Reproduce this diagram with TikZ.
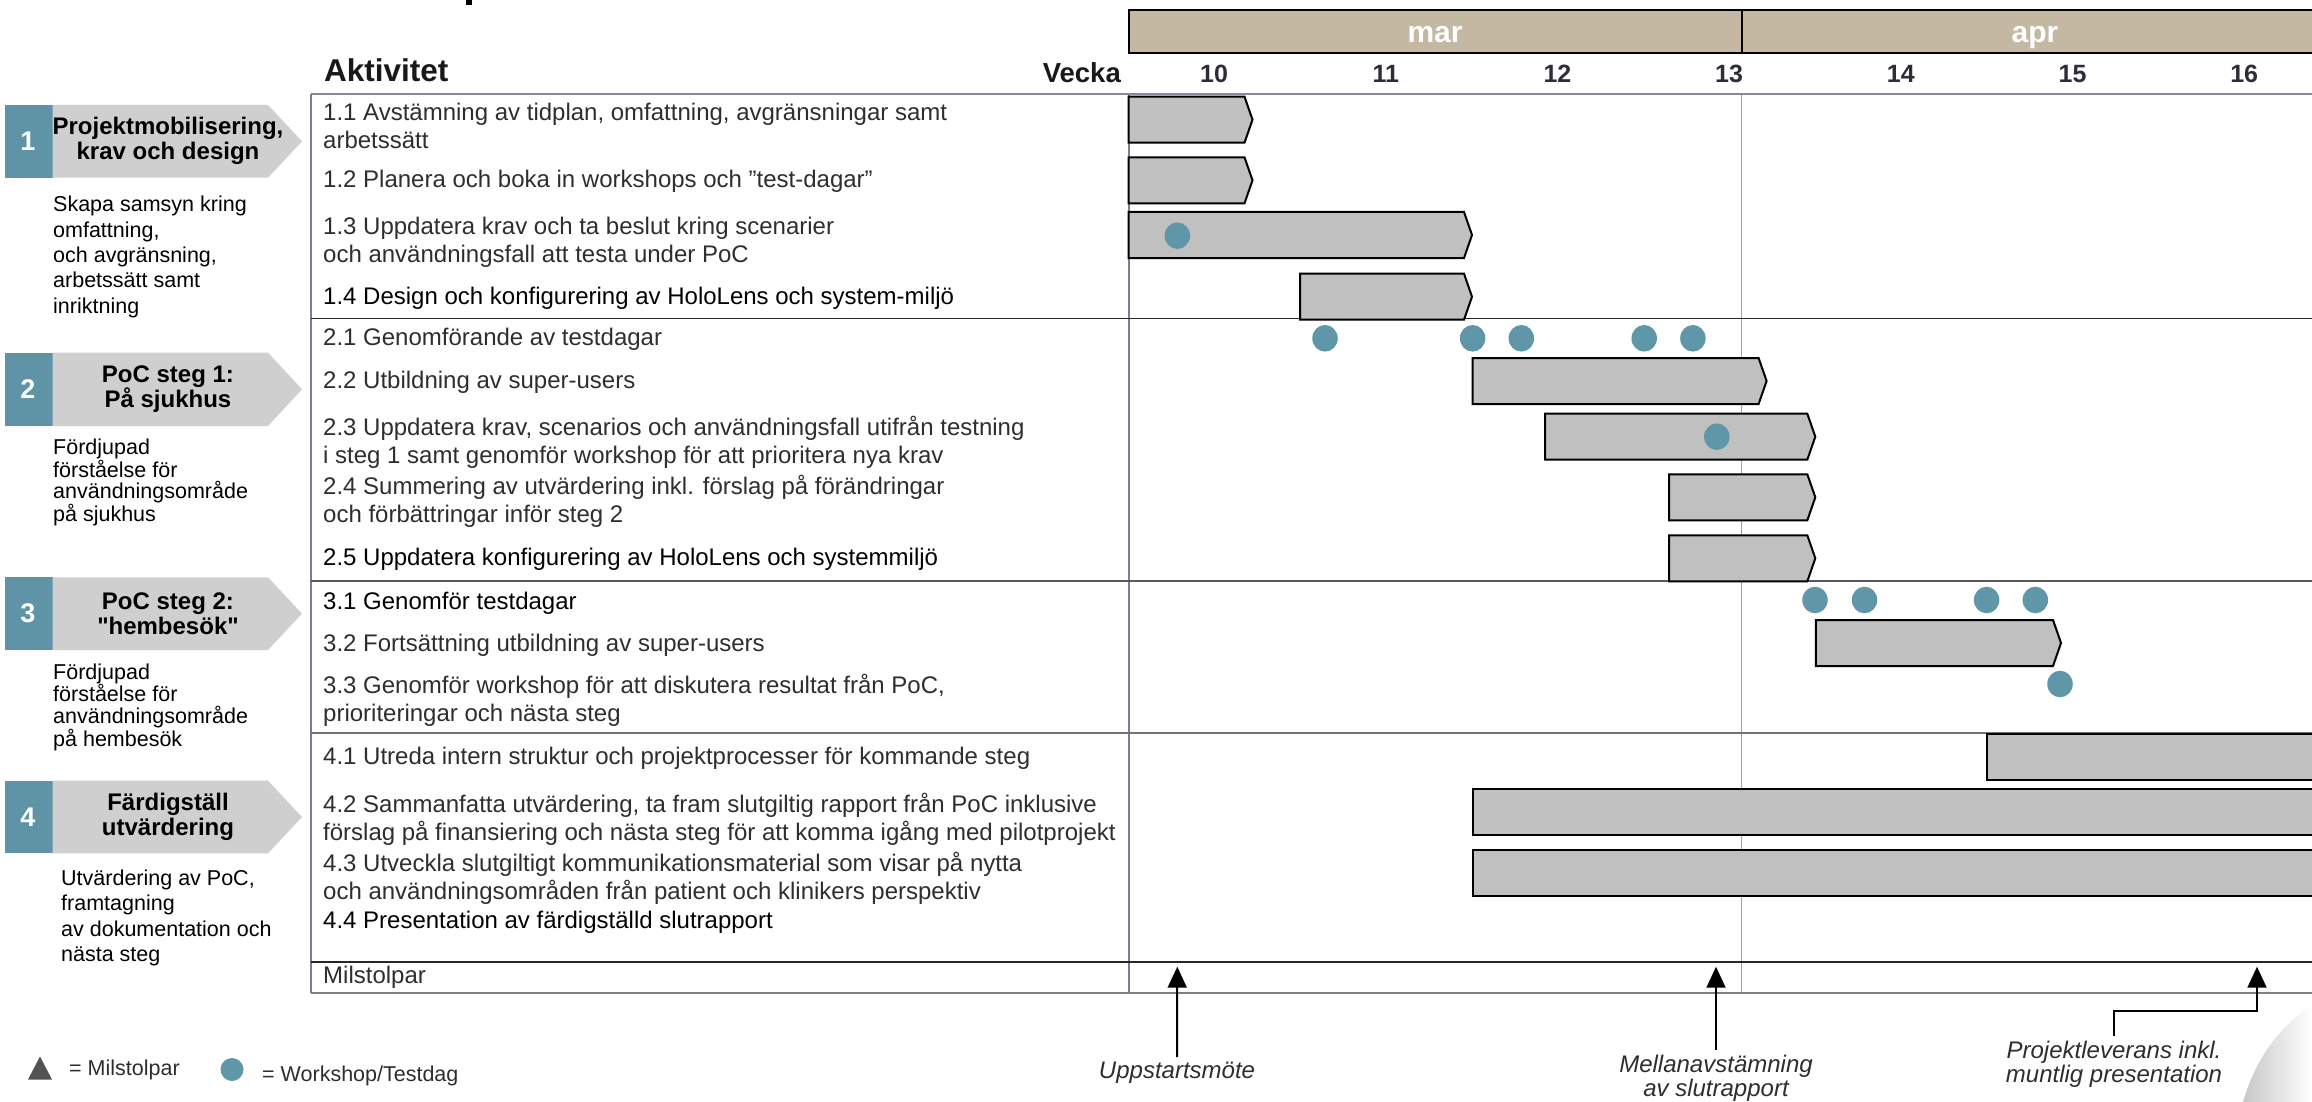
\documentclass[tikz,border=0pt]{standalone}
\usepackage{fontspec}
\setmainfont{Liberation Sans}
\usetikzlibrary{arrows.meta}
\definecolor{tealA}{HTML}{6097A8}
\definecolor{tealB}{HTML}{5E94A6}
\definecolor{tanA}{HTML}{C4B8A2}
\definecolor{barA}{HTML}{C0C0C0}
\definecolor{chevA}{HTML}{CFCFCF}
\definecolor{txtA}{HTML}{2E2E2E}
\definecolor{wkA}{HTML}{2D2D3A}
\definecolor{gridA}{HTML}{7C7C8C}
\definecolor{gridB}{HTML}{A0A0A0}
\newcommand{\ganttbar}[3]{\draw[barst] (#1,#3-23) -- (#2,#3-23) -- (#2+8,#3) -- (#2,#3+23) -- (#1,#3+23) -- cycle;}
\newcommand{\openbar}[2]{\draw[barst] (#1,#2-23) rectangle (2340,#2+23);}
\newcommand{\wsdot}[2]{\fill[tealA] (#1,#2) ellipse [x radius=12.75pt, y radius=13.3pt];}
\begin{document}
\begin{tikzpicture}[x=1pt,y=-1pt,
  act/.style={anchor=west, inner sep=0pt, align=left, font=\fontsize{24}{28}\selectfont, text=txtA},
  actb/.style={act, text=black},
  hdr/.style={inner sep=0pt, font=\bfseries\fontsize{31.5}{34}\selectfont, text=black!90},
  wkst/.style={anchor=base, inner sep=0pt, font=\bfseries\fontsize{25}{28}\selectfont, text=wkA},
  monst/.style={anchor=base, inner sep=0pt, font=\bfseries\fontsize{30}{32}\selectfont, text=white},
  chevtxt/.style={inner sep=0pt, align=center, font=\bfseries\fontsize{24}{25}\selectfont, text=black},
  numst/.style={inner sep=0pt, font=\bfseries\fontsize{27}{30}\selectfont, text=white},
  desc/.style={anchor=west, inner sep=0pt, align=left, text=black},
  barst/.style={fill=barA, draw=black, line width=2pt, line join=miter},
  mlab/.style={inner sep=5pt, align=center, font=\itshape\fontsize{24}{24}\selectfont, text=txtA},
  mline/.style={draw=black, line width=2pt, -{Triangle[width=19pt,length=21pt]}},
  leg/.style={anchor=west, inner sep=0pt, font=\fontsize{21.5}{24}\selectfont, text=txtA}
]
\useasboundingbox (0,0) rectangle (2312,1102);
\clip (0,0) rectangle (2312,1102);
\fill[white] (0,0) rectangle (2312,1102);

% title remnant
\fill[black] (466,0) rectangle (471.5,5.5);

% bottom right arc
\shade[left color=black!22, right color=white] (2243,1102) .. controls (2255,1060) and (2278,1028) .. (2312,1005) -- (2312,1102) -- cycle;

% month bar
\draw[fill=tanA, line width=2pt] (1128.6,10) rectangle (1741.6,53);
\draw[fill=tanA, line width=2pt] (1741.6,10) rectangle (2340,53);
\node[monst] (mar) at (1435,43) {mar};
\node[monst] (apr) at (2035,43) {apr};

% headers
\node[hdr, anchor=base west] (akt) at (324,82) {Aktivitet};
\node[hdr, anchor=base east, font=\bfseries\fontsize{27.5}{30}\selectfont] (vecka) at (1121,83) {Vecka};
\foreach \w [count=\i from 0] in {10,...,16}
  \node[wkst] (w\w) at (1214+171.7*\i,83) {\w};

% grid
\draw[gridA, line width=1.5pt] (311,94) -- (311,993);
\draw[gridA, line width=2pt] (1128.6,94) -- (1128.6,993);
\draw[gridB, line width=1.5pt] (1741.6,94) -- (1741.6,993);
\draw[gridA!90, line width=2.5pt] (311,94) -- (2312,94);
\draw[black!85, line width=1.5pt] (311,318.5) -- (2312,318.5);
\draw[black!65, line width=2.5pt] (311,581) -- (2312,581);
\draw[black!55, line width=2.5pt] (311,733) -- (2312,733);
\draw[black!85, line width=1.5pt] (311,962) -- (2312,962);
\draw[black!50, line width=2.5pt] (311,993) -- (2312,993);

% activity texts
\node[act] (a11) at (323,126) {1.1 Avstämning av tidplan, omfattning, avgränsningar samt\\arbetssätt};
\node[act] (a12) at (323,181) {1.2 Planera och boka in workshops och ”test-dagar”};
\node[act] (a13) at (323,242) {1.3 Uppdatera krav och ta beslut kring scenarier\\och användningsfall att testa under PoC};
\node[actb] (a14) at (323,298) {1.4 Design och konfigurering av HoloLens och system-miljö};
\node[act] (a21) at (323,339) {2.1 Genomförande av testdagar};
\node[act] (a22) at (323,382) {2.2 Utbildning av super-users};
\node[act] (a23) at (323,442) {2.3 Uppdatera krav, scenarios och användningsfall utifrån testning\\i steg 1 samt genomför workshop för att prioritera nya krav};
\node[act] (a24) at (323,501) {2.4 Summering av utvärdering inkl. förslag på förändringar\\och förbättringar inför steg 2};
\node[actb] (a25) at (323,559) {2.5 Uppdatera konfigurering av HoloLens och systemmiljö};
\node[actb] (a31) at (323,603) {3.1 Genomför testdagar};
\node[act] (a32) at (323,645) {3.2 Fortsättning utbildning av super-users};
\node[act] (a33) at (323,700) {3.3 Genomför workshop för att diskutera resultat från PoC,\\prioriteringar och nästa steg};
\node[act] (a41) at (323,758) {4.1 Utreda intern struktur och projektprocesser för kommande steg};
\node[act] (a42) at (323,819) {4.2 Sammanfatta utvärdering, ta fram slutgiltig rapport från PoC inklusive\\förslag på finansiering och nästa steg för att komma igång med pilotprojekt};
\node[act] (a43) at (323,878) {4.3 Utveckla slutgiltigt kommunikationsmaterial som visar på nytta\\och användningsområden från patient och klinikers perspektiv};
\node[actb] (a44) at (323,922) {4.4 Presentation av färdigställd slutrapport};
\node[act] (ms) at (323,977) {Milstolpar};

% section chevrons
\foreach \n/\yt/\yb in {1/105/177.7, 2/352.7/426, 3/577.3/650, 4/780.7/853.3}{
  \fill[tealB] (5,\yt) rectangle (52.7,\yb);
  \fill[chevA] (52.7,\yt) -- (268,\yt) -- (302,{(\yt+\yb)/2}) -- (268,\yb) -- (52.7,\yb) -- cycle;
  \node[numst] (n\n) at (28,{(\yt+\yb)/2}) {\n};
}
\node[chevtxt] (c1) at (168,141) {Projektmobilisering,\\krav och design};
\node[chevtxt] (c2) at (168,389.3) {PoC steg 1:\\På sjukhus};
\node[chevtxt] (c3) at (168,613.7) {PoC steg 2:\\\textquotedbl hembesök\textquotedbl};
\node[chevtxt] (c4) at (168,817) {Färdigställ\\utvärdering};

\node[desc, font=\fontsize{21.5}{25.3}\selectfont] (d1) at (53,257) {Skapa samsyn kring\\omfattning,\\och avgränsning,\\arbetssätt samt\\inriktning};
\node[desc, font=\fontsize{21.5}{21.7}\selectfont] (d2) at (53,482.5) {Fördjupad\\förståelse för\\användningsområde\\på sjukhus};
\node[desc, font=\fontsize{21.5}{21.5}\selectfont] (d3) at (53,707) {Fördjupad\\förståelse för\\användningsområde\\på hembesök};
\node[desc, font=\fontsize{21.5}{25.6}\selectfont] (d4) at (61,918) {Utvärdering av PoC,\\framtagning\\av dokumentation och\\nästa steg};

% bars
\ganttbar{1128.6}{1244.5}{119.7}
\ganttbar{1128.6}{1244.5}{180.3}
\ganttbar{1128.6}{1464}{235}
\ganttbar{1300}{1464}{296.7}
\ganttbar{1472.6}{1758.6}{381}
\ganttbar{1545}{1807.3}{436.7}
\ganttbar{1669}{1807.3}{497.3}
\ganttbar{1669}{1807.3}{558.3}
\ganttbar{1815.8}{2053}{643}
\openbar{1986.6}{756.7}
\openbar{1472.6}{812}
\openbar{1472.6}{873}

% workshop dots
\wsdot{1177.3}{235.7}
\foreach \x in {1325,1472.6,1521.3,1644.2,1692.9} {\wsdot{\x}{338.3}}
\wsdot{1716.8}{436.7}
\foreach \x in {1815,1864.5,1986.6,2035.3} {\wsdot{\x}{600}}
\wsdot{2060}{684}

% milestones
\coordinate (m1) at (1177.3,966.7);
\coordinate (m2) at (1716,966.7);
\coordinate (m3) at (2257,966.7);
\coordinate (e3) at (2257,1010.7);
\node[mlab] (l1) at (1177,1073) {Uppstartsmöte};
\node[mlab] (l2) at (1716,1078) {Mellanavstämning\\av slutrapport};
\node[mlab] (l3) at (2114,1064) {Projektleverans inkl.\\muntlig presentation};
\draw[mline] (l1.north) -- (m1);
\draw[mline] (l2.north) -- (m2);
\draw[mline] (l3.north) -- (l3.north |- e3) -| (m3);

% legend
\fill[black!68] (28,1079.5) -- (52,1079.5) -- (40,1056.5) -- cycle;
\node[leg] (lg1) at (69,1070) {= Milstolpar};
\fill[tealA] (232,1069.5) ellipse [x radius=11.5pt, y radius=11.5pt];
\node[leg] (lg2) at (262,1076) {= Workshop/Testdag};
\end{tikzpicture}
\end{document}
